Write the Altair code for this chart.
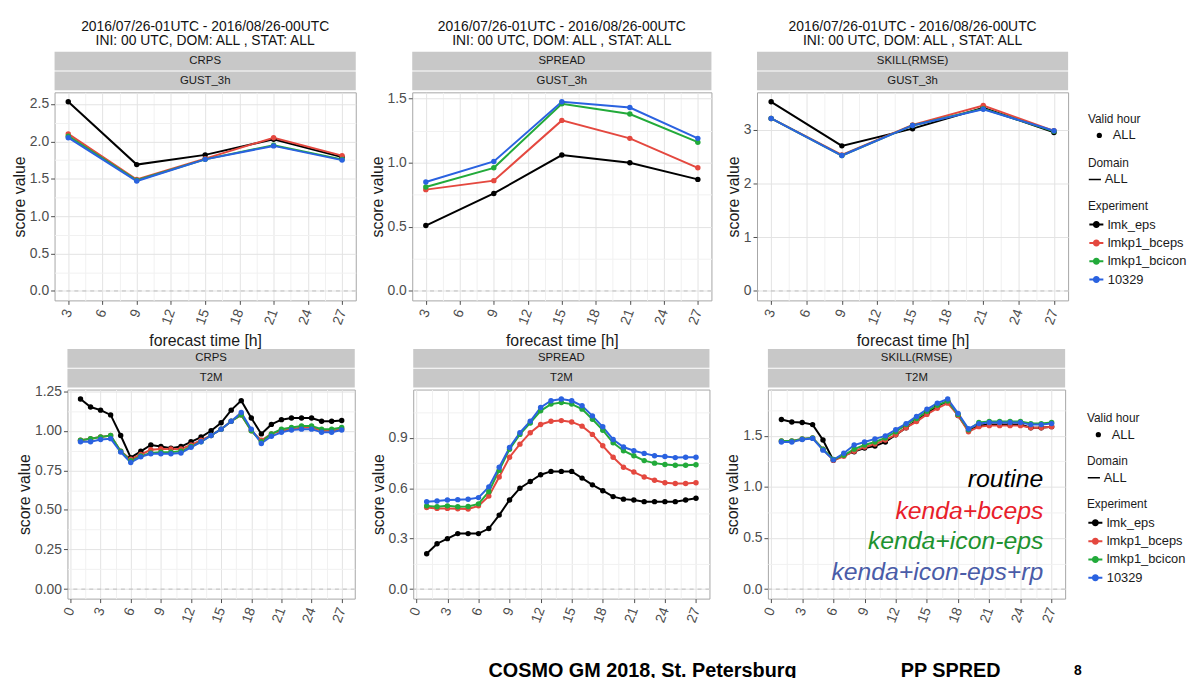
import altair as alt
import numpy as np
import pandas as pd

FONT = "Liberation Sans"

# ---------------- data ----------------
experiments = ["lmk_eps", "lmkp1_bceps", "lmkp1_bcicon", "10329"]
exp_colors = ["#000000", "#E4483F", "#22AA3A", "#2A62E0"]

gust_hours = [3, 9, 15, 21, 27]
t2m_hours = list(range(1, 28))

# CRPS / GUST_3h
crps_gust_lmk_eps = [2.53, 1.69, 1.82, 2.03, 1.79]
crps_gust_bceps = [2.10, 1.49, 1.77, 2.05, 1.81]
crps_gust_bcicon = [2.07, 1.48, 1.76, 1.95, 1.76]
crps_gust_10329 = [2.05, 1.47, 1.76, 1.94, 1.75]

# SPREAD / GUST_3h
spread_gust_lmk_eps = [0.51, 0.76, 1.06, 1.00, 0.87]
spread_gust_bceps = [0.79, 0.86, 1.33, 1.19, 0.96]
spread_gust_bcicon = [0.81, 0.96, 1.46, 1.38, 1.16]
spread_gust_10329 = [0.85, 1.01, 1.475, 1.43, 1.19]

# SKILL(RMSE) / GUST_3h
rmse_gust_lmk_eps = [3.52, 2.70, 3.02, 3.41, 2.95]
rmse_gust_bceps = [3.21, 2.53, 3.09, 3.45, 2.98]
rmse_gust_bcicon = [3.21, 2.52, 3.08, 3.39, 2.97]
rmse_gust_10329 = [3.21, 2.52, 3.08, 3.38, 2.98]

# CRPS / T2M
crps_t2m_lmk_eps = [1.20, 1.15, 1.13, 1.10, 0.97, 0.83, 0.87, 0.91, 0.90, 0.89, 0.90, 0.93, 0.96, 1.00,
                    1.05, 1.13, 1.19, 1.08, 0.98, 1.04, 1.07, 1.08, 1.08, 1.08, 1.06, 1.06, 1.065]
crps_t2m_bceps = [0.94, 0.95, 0.96, 0.97, 0.87, 0.82, 0.85, 0.88, 0.885, 0.885, 0.885, 0.91, 0.94, 0.97,
                  1.01, 1.06, 1.10, 1.00, 0.94, 0.98, 1.00, 1.01, 1.02, 1.02, 1.00, 1.00, 1.01]
crps_t2m_bcicon = [0.94, 0.95, 0.96, 0.97, 0.87, 0.81, 0.84, 0.86, 0.865, 0.865, 0.87, 0.90, 0.93, 0.97,
                   1.01, 1.06, 1.10, 1.00, 0.93, 0.98, 1.01, 1.02, 1.03, 1.03, 1.01, 1.01, 1.02]
crps_t2m_10329 = [0.93, 0.93, 0.945, 0.95, 0.865, 0.80, 0.835, 0.855, 0.855, 0.855, 0.86, 0.895, 0.93, 0.97,
                  1.01, 1.06, 1.115, 1.01, 0.92, 0.965, 0.99, 1.005, 1.01, 1.01, 0.99, 0.99, 1.005]

# SPREAD / T2M
spread_t2m_lmk_eps = [0.21, 0.27, 0.30, 0.33, 0.33, 0.33, 0.36, 0.44, 0.53, 0.60, 0.64, 0.68, 0.70, 0.70,
                      0.70, 0.66, 0.62, 0.585, 0.55, 0.535, 0.53, 0.52, 0.52, 0.52, 0.52, 0.53, 0.54]
spread_t2m_bceps = [0.485, 0.48, 0.48, 0.478, 0.476, 0.495, 0.553, 0.667, 0.784, 0.862, 0.93, 0.979, 0.998, 1.002,
                    0.994, 0.969, 0.92, 0.852, 0.784, 0.725, 0.696, 0.667, 0.647, 0.632, 0.628, 0.628, 0.632]
spread_t2m_bcicon = [0.495, 0.49, 0.495, 0.49, 0.491, 0.507, 0.579, 0.706, 0.832, 0.92, 0.988, 1.06, 1.10, 1.11,
                     1.10, 1.07, 1.01, 0.945, 0.87, 0.823, 0.793, 0.764, 0.749, 0.741, 0.736, 0.736, 0.739]
spread_t2m_10329 = [0.52, 0.524, 0.53, 0.532, 0.534, 0.544, 0.608, 0.725, 0.842, 0.93, 0.998, 1.08, 1.12, 1.13,
                    1.12, 1.09, 1.03, 0.965, 0.89, 0.845, 0.823, 0.807, 0.793, 0.788, 0.782, 0.784, 0.784]

# SKILL(RMSE) / T2M
rmse_t2m_lmk_eps = [1.66, 1.635, 1.63, 1.61, 1.46, 1.26, 1.31, 1.345, 1.38, 1.40, 1.44, 1.51, 1.58, 1.65,
                    1.72, 1.79, 1.84, 1.70, 1.55, 1.60, 1.61, 1.61, 1.61, 1.61, 1.58, 1.58, 1.59]
rmse_t2m_bceps = [1.45, 1.45, 1.47, 1.48, 1.37, 1.26, 1.30, 1.35, 1.39, 1.42, 1.46, 1.51, 1.58, 1.64,
                  1.71, 1.77, 1.82, 1.70, 1.54, 1.59, 1.60, 1.60, 1.60, 1.60, 1.58, 1.58, 1.59]
rmse_t2m_bcicon = [1.45, 1.45, 1.47, 1.48, 1.37, 1.27, 1.31, 1.37, 1.41, 1.44, 1.48, 1.54, 1.61, 1.67,
                   1.74, 1.80, 1.84, 1.71, 1.56, 1.63, 1.64, 1.64, 1.64, 1.64, 1.62, 1.62, 1.63]
rmse_t2m_10329 = [1.44, 1.44, 1.465, 1.475, 1.36, 1.265, 1.33, 1.41, 1.44, 1.47, 1.50, 1.56, 1.62, 1.69,
                  1.76, 1.82, 1.86, 1.72, 1.57, 1.62, 1.63, 1.63, 1.63, 1.63, 1.61, 1.61, 1.62]

title_lines = ["2016/07/26-01UTC - 2016/08/26-00UTC", "INI: 00 UTC, DOM:  ALL , STAT: ALL"]
annotations = ["routine", "kenda+bceps", "kenda+icon-eps", "kenda+icon-eps+rp"]
annotation_colors = ["#000000", "#E8202A", "#1D9330", "#4A5CA8"]


def frame(hours, series_list):
    rows = []
    for exp, vals in zip(experiments, series_list):
        for h, v in zip(hours, vals):
            rows.append({"hour": h, "value": v, "Experiment": exp,
                         "Valid hour": "ALL", "Domain": "ALL"})
    return pd.DataFrame(rows)


def grid_values(lo, hi, step):
    k0 = int(np.ceil(lo / step - 1e-9))
    k1 = int(np.floor(hi / step + 1e-9))
    return [round(k * step, 6) for k in range(k0, k1 + 1)]


def major_test(step):
    return f"abs(datum.value / {step} - round(datum.value / {step})) < 0.001"


ONE = pd.DataFrame({"value": [0.0]})
EXP_SYMBOL = "M-1,0L1,0M0.36,0A0.36,0.36,0,1,1,-0.36,0A0.36,0.36,0,1,1,0.36,0"


def text_layer(txt, x, y, **kw):
    return alt.Chart(ONE).mark_text(text=txt, font=FONT, **kw).encode(
        x=alt.value(x), y=alt.value(y))


def panel(df, xdom, xstep, ystep, yfmt, width, height, metric, variable,
          legend_xy, title=None, xtitle=None, extras=()):
    ymax = float(df["value"].max())
    ydom = [-0.05 * ymax, 1.05 * ymax]
    xt = major_test(xstep)
    yt = major_test(ystep)
    x_axis = alt.Axis(values=grid_values(xdom[0], xdom[1], xstep / 2), format="d",
                      labelExpr=f"({xt}) ? datum.label : ''",
                      gridColor={"condition": {"test": xt, "value": "#E3E3E3"}, "value": "#F1F1F1"},
                      tickOpacity={"condition": {"test": xt, "value": 1}, "value": 0},
                      labelAngle=290, labelAlign="right", labelBaseline="middle",
                      labelPadding=5, titlePadding=6,
                      labelOverlap=False, labelFlush=False, title=xtitle)
    y_axis = alt.Axis(values=grid_values(ydom[0], ydom[1], ystep / 2), format=yfmt,
                      labelExpr=f"({yt}) ? datum.label : ''",
                      gridColor={"condition": {"test": yt, "value": "#E3E3E3"}, "value": "#F1F1F1"},
                      tickOpacity={"condition": {"test": yt, "value": 1}, "value": 0},
                      labelOverlap=False, labelFlush=False, title="score value")
    X = alt.X("hour:Q", scale=alt.Scale(domain=xdom, nice=False, zero=False), axis=x_axis)
    Y = alt.Y("value:Q", scale=alt.Scale(domain=ydom, nice=False, zero=False), axis=y_axis)

    lx, ly_vh, ly_dom, ly_exp = legend_xy
    vh_leg = alt.Legend(title="Valid hour", orient="none", legendX=lx, legendY=ly_vh,
                        symbolOpacity=1, symbolType="circle", symbolOffset=5, labelOffset=7)
    dom_leg = alt.Legend(title="Domain", orient="none", legendX=lx, legendY=ly_dom,
                         symbolOpacity=1, symbolType="stroke", symbolSize=150,
                         symbolStrokeWidth=1.5, symbolStrokeColor="black", labelOffset=3)
    exp_leg = alt.Legend(title="Experiment", orient="none", legendX=lx, legendY=ly_exp,
                         symbolType=EXP_SYMBOL, symbolSize=200, symbolStrokeWidth=2, labelOffset=3)

    base = alt.Chart(df)
    vh = base.mark_point(filled=True, color="black", opacity=0).encode(
        X, Y, size=alt.Size("Valid hour:N", scale=alt.Scale(range=[28, 28]), legend=vh_leg))
    dom = base.mark_line(color="black", opacity=0).encode(
        X, Y, detail="Experiment:N",
        strokeDash=alt.StrokeDash("Domain:N", scale=alt.Scale(range=[[1, 0]]), legend=dom_leg))
    zero = alt.Chart(ONE).mark_rule(color="#BDBDBD", strokeDash=[4, 4], strokeWidth=1).encode(y=Y)
    lines = base.mark_line(strokeWidth=2).encode(
        X, Y, stroke=alt.Stroke("Experiment:N", scale=alt.Scale(domain=experiments, range=exp_colors),
                                legend=exp_leg))
    pts = base.mark_point(filled=True, size=30, opacity=1).encode(
        X, Y, fill=alt.Fill("Experiment:N", scale=alt.Scale(domain=experiments, range=exp_colors),
                            legend=exp_leg))
    strip = alt.Chart(ONE).mark_rect(color="#C8C8C8")
    s1 = strip.encode(x=alt.value(0), x2=alt.value(width), y=alt.value(-41), y2=alt.value(-22))
    s2 = strip.encode(x=alt.value(0), x2=alt.value(width), y=alt.value(-21), y2=alt.value(-2))
    t1 = text_layer(metric, width / 2, -31.5, fontSize=11.5, color="#1A1A1A", baseline="middle")
    t2 = text_layer(variable, width / 2, -11.5, fontSize=11.5, color="#1A1A1A", baseline="middle")

    props = dict(width=width, height=height)
    if title is not None:
        props["title"] = alt.TitleParams(text=title, fontSize=14, fontWeight="normal", font=FONT,
                                         anchor="middle", frame="group", offset=4, lineHeight=14,
                                         color="#111111")
    return alt.layer(vh, dom, zero, lines, pts, s1, s2, t1, t2, *extras).properties(**props)


# legend positions (relative to the row origin)
top_leg = (1043, 22, 66, 110)
bot_leg = (1042, 24, 67, 111)

P1 = panel(frame(gust_hours, [crps_gust_lmk_eps, crps_gust_bceps, crps_gust_bcicon, crps_gust_10329]),
           [1.8, 28.2], 3, 0.5, ".1f", 304, 210, "CRPS", "GUST_3h", top_leg,
           title=title_lines, xtitle="forecast time [h]")
P2 = panel(frame(gust_hours, [spread_gust_lmk_eps, spread_gust_bceps, spread_gust_bcicon, spread_gust_10329]),
           [1.8, 28.2], 3, 0.5, ".1f", 302, 210, "SPREAD", "GUST_3h", top_leg,
           title=title_lines, xtitle="forecast time [h]")
P3 = panel(frame(gust_hours, [rmse_gust_lmk_eps, rmse_gust_bceps, rmse_gust_bcicon, rmse_gust_10329]),
           [1.8, 28.2], 3, 1, "d", 314, 210, "SKILL(RMSE)", "GUST_3h", top_leg,
           title=title_lines, xtitle="forecast time [h]")

footer = [
    text_layer("COSMO GM 2018, St. Petersburg", 76, 290, fontSize=20, fontWeight="bold",
               align="left", baseline="alphabetic", color="#000000"),
    text_layer("PP SPRED", 492, 290, fontSize=20, fontWeight="bold",
               align="left", baseline="alphabetic", color="#000000"),
    text_layer("8", 667, 288, fontSize=14, fontWeight="bold",
               align="left", baseline="alphabetic", color="#000000"),
]
ann_baselines = [98.5, 130.5, 160.5, 192]
notes = [text_layer(t, 278, yb, fontSize=25, fontStyle="italic", align="right",
                    baseline="alphabetic", color=c)
         for t, c, yb in zip(annotations, annotation_colors, ann_baselines)]

Q1 = panel(frame(t2m_hours, [crps_t2m_lmk_eps, crps_t2m_bceps, crps_t2m_bcicon, crps_t2m_10329]),
           [-0.3, 28.3], 3, 0.25, ".2f", 290, 211, "CRPS", "T2M", bot_leg)
Q2 = panel(frame(t2m_hours, [spread_t2m_lmk_eps, spread_t2m_bceps, spread_t2m_bcicon, spread_t2m_10329]),
           [-0.3, 28.3], 3, 0.3, ".1f", 299, 211, "SPREAD", "T2M", bot_leg, extras=footer)
Q3 = panel(frame(t2m_hours, [rmse_t2m_lmk_eps, rmse_t2m_bceps, rmse_t2m_bcicon, rmse_t2m_10329]),
           [-0.3, 28.3], 3, 0.5, ".1f", 300, 211, "SKILL(RMSE)", "T2M", bot_leg, extras=notes)

spacer = alt.Chart(ONE).mark_point(opacity=0).encode(
    x=alt.value(0), y=alt.value(0)
).properties(width=13, height=211, view=alt.ViewBackground(stroke="transparent"))

row1 = alt.hconcat(P1, alt.hconcat(P2, P3, spacing=46, bounds="flush"),
                   spacing=57, bounds="flush")
row2 = alt.hconcat(spacer, alt.hconcat(Q1, Q2, Q3, spacing=59, bounds="flush"),
                   spacing=0, bounds="flush")

# nested concat groups report no height in flush mode, so the spacing is the full row offset
chart = alt.vconcat(row1, row2, spacing=300, bounds="flush").resolve_scale(
    size="independent", strokeDash="independent", stroke="independent", fill="independent"
).properties(
    # negative bottom padding lets the slide footer be cut at the page edge, as in the reference
    padding={"left": 3, "top": 8, "right": 0, "bottom": -7},
    background="white",
).configure(font=FONT).configure_view(
    stroke="#A6A6A6", strokeWidth=1
).configure_axis(
    labelFont=FONT, labelFontSize=14, labelColor="#4D4D4D",
    titleFont=FONT, titleFontSize=16, titleFontWeight="normal", titleColor="#1A1A1A",
    tickColor="#4D4D4D", tickSize=4, tickWidth=1, domain=False,
    labelPadding=2, titlePadding=2, gridWidth=1,
).configure_legend(
    titleFont=FONT, titleFontSize=12, titleFontWeight="normal", titleColor="#1A1A1A",
    labelFont=FONT, labelFontSize=13, labelColor="#1A1A1A",
    padding=0, titlePadding=3, rowPadding=2.5,
)

chart.save("out.html", embed_options={"renderer": "svg", "actions": False})
